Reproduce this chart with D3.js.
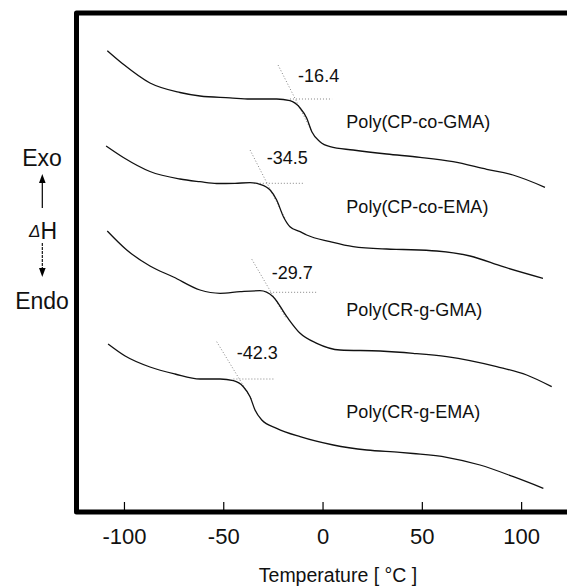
<!DOCTYPE html>
<html>
<head>
<meta charset="utf-8">
<script src="https://cdn.jsdelivr.net/npm/d3@7"></script>
<style>
  body { margin: 0; background: #fff; }
  svg text { font-family: "Liberation Sans", Arial, sans-serif; fill: #111; }
</style>
</head>
<body>
<div class="plots"></div>
<script>
// DSC traces, temperature in degC vs heat flow (arbitrary units, stacked)
var names = ["Poly(CP-co-GMA)", "Poly(CP-co-EMA)", "Poly(CR-g-GMA)", "Poly(CR-g-EMA)"];

var tempA = [-108.4, -100.5, -86.9, -71.8, -61.7, -46.6, -36.5, -23.1, -16.4, -11.3, -8.0, -5.4, -1.3, 3.8, 15.4, 32.3, 49.1, 65.7, 82.7, 95.9, 112];
var flowA = [46.13, 44.8, 42.9, 41.95, 41.6, 41.42, 41.3, 41.3, 41.13, 40.4, 39.4, 38.03, 37.03, 36.53, 36.2, 35.8, 35.47, 35.03, 34.27, 33.7, 32.47];

var tempB = [-109, -100.3, -86.9, -71.8, -61.7, -53.3, -44.1, -36.5, -31.5, -26.4, -23.1, -19.7, -16.4, -11.3, -8, 3.8, 15.4, 32.3, 40.5, 57.5, 74.3, 90.9, 111];
var flowB = [36.6, 35.45, 34.05, 33.3, 33.03, 32.85, 32.87, 32.93, 32.77, 32.2, 31.2, 29.53, 28.53, 28.03, 27.7, 27.03, 26.53, 26.3, 26.25, 26.1, 25.6, 24.53, 23.37];

var tempC = [-108.4, -98.6, -86.9, -75.1, -61.7, -51.6, -41.5, -31.5, -24.9, -18.0, -11.3, -2.9, 8.8, 29.0, 45.6, 62.5, 87.7, 102.8, 115.4];
var flowC = [28.1, 26.2, 24.6, 23.5, 22.2, 21.87, 22.03, 22.13, 21.53, 19.53, 17.87, 16.87, 16.2, 16.1, 15.87, 15.53, 14.53, 13.7, 12.53];

var tempD = [-108, -99.4, -86.9, -74.3, -61.7, -51.6, -44.9, -39.9, -36.5, -34.0, -30.6, -23.1, -11.3, 5.4, 22.3, 39.0, 45.6, 62.5, 79.3, 96.1, 111.2];
var flowD = [16.8, 15.6, 14.5, 13.8, 13.3, 13.3, 13.13, 12.53, 11.53, 10.2, 9.2, 8.37, 7.53, 6.7, 6.2, 5.97, 5.85, 5.47, 4.7, 3.53, 2.37];

// glass transition onsets and their construction lines
var onsets = ["-16.4", "-34.5", "-29.7", "-42.3"];
var onsetLabelT = [-12.3, -28.1, -25.6, -43.2];
var onsetLabelV = [43.6, 35.4, 23.9, 15.9];
var tangentT = [[-22.4, -5.3], [-36.5, -18.9], [-35.6, -18.4], [-53.3, -35.5]];
var tangentV = [[44.7, 38.0], [36.2, 29.37], [25.27, 19.4], [17.03, 11.2]];
var baseT = [[-16.4, 4.8], [-33.1, -9.7], [-26.4, -2.3], [-44.9, -24.0]];
var baseV = [41.3, 32.87, 21.97, 13.3];
var nameLabelV = [39.0, 30.5, 20.2, 10.0];

var xTicks = [-100, -50, 0, 50, 100];

var width = 567, height = 586;
var frameLeft = 76.5, frameTop = 13, frameBottom = 512;

var svg = d3.select(".plots").append("svg")
    .attr("width", width)
    .attr("height", height);

var x = d3.scaleLinear().domain([-123.9, 123.1]).range([frameLeft, width]);
var y = d3.scaleLinear().domain([0, 50]).range([frameBottom, 12]);

var line = d3.line()
    .x(function(d) { return x(d[0]); })
    .y(function(d) { return y(d[1]); })
    .curve(d3.curveMonotoneX);

var series = [[tempA, flowA], [tempB, flowB], [tempC, flowC], [tempD, flowD]];

series.forEach(function(s, i) {
  var pts = s[0].map(function(t, j) { return [t, s[1][j]]; });

  // tangent (dotted)
  svg.append("line")
      .attr("x1", x(tangentT[i][0])).attr("y1", y(tangentV[i][0]))
      .attr("x2", x(tangentT[i][1])).attr("y2", y(tangentV[i][1]))
      .attr("stroke", "#777")
      .attr("stroke-width", 0.9)
      .attr("stroke-dasharray", "1,2");
  // baseline extension (dotted)
  svg.append("line")
      .attr("x1", x(baseT[i][0])).attr("y1", y(baseV[i]))
      .attr("x2", x(baseT[i][1])).attr("y2", y(baseV[i]))
      .attr("stroke", "#777")
      .attr("stroke-width", 0.9)
      .attr("stroke-dasharray", "1,2");

  svg.append("path")
      .datum(pts)
      .attr("fill", "none")
      .attr("stroke", "#111")
      .attr("stroke-width", 1.3)
      .attr("stroke-linejoin", "round")
      .attr("d", line);

  svg.append("text")
      .attr("x", x(onsetLabelT[i]))
      .attr("y", y(onsetLabelV[i]))
      .attr("dominant-baseline", "central")
      .style("font-size", "18px")
      .text(onsets[i]);

  svg.append("text")
      .attr("x", x(12))
      .attr("y", y(nameLabelV[i]))
      .attr("dominant-baseline", "central")
      .style("font-size", "18px")
      .text(names[i]);
});

// frame: open on the right
svg.append("path")
    .attr("d", "M" + (width + 5) + "," + frameTop + "H" + frameLeft + "V" + frameBottom + "H" + (width + 5))
    .attr("fill", "none")
    .attr("stroke", "#000")
    .attr("stroke-width", 5)
    .attr("stroke-linejoin", "round");

var xAxis = svg.append("g")
    .attr("transform", "translate(0," + (frameBottom - 2) + ")")
    .call(d3.axisBottom(x).tickValues(xTicks)
      .tickFormat(function(d) { return String(d); })
      .tickSizeInner(-8).tickSizeOuter(0).tickPadding(18));
xAxis.select(".domain").remove();
xAxis.selectAll(".tick line").attr("stroke", "#000").attr("stroke-width", 1.2);
xAxis.selectAll(".tick text")
    .attr("fill", "#111")
    .style("font-family", "'Liberation Sans', Arial, sans-serif")
    .style("font-size", "22px");

svg.append("text")
    .attr("x", 338)
    .attr("y", 575)
    .attr("text-anchor", "middle")
    .attr("dominant-baseline", "central")
    .style("font-size", "19.5px")
    .text("Temperature [ \u00B0C ]");

// Exo / dH / Endo side label
svg.append("text")
    .attr("x", 42).attr("y", 158)
    .attr("text-anchor", "middle")
    .attr("dominant-baseline", "central")
    .style("font-size", "23px")
    .text("Exo");
svg.append("text")
    .attr("x", 42).attr("y", 301)
    .attr("text-anchor", "middle")
    .attr("dominant-baseline", "central")
    .style("font-size", "23px")
    .text("Endo");
var dh = svg.append("text")
    .attr("x", 43).attr("y", 231)
    .attr("text-anchor", "middle")
    .attr("dominant-baseline", "central")
    .style("font-size", "23px");
dh.append("tspan").style("font-style", "italic").style("font-size", "17px").text("\u0394");
dh.append("tspan").text("H");

svg.append("line")
    .attr("x1", 42.3).attr("y1", 208).attr("x2", 42.3).attr("y2", 180)
    .attr("stroke", "#000").attr("stroke-width", 1.2);
svg.append("path")
    .attr("d", "M42.3,174L39,183L45.6,183Z")
    .attr("fill", "#000");
svg.append("line")
    .attr("x1", 42.3).attr("y1", 243).attr("x2", 42.3).attr("y2", 271)
    .attr("stroke", "#000").attr("stroke-width", 1.1)
    .attr("stroke-dasharray", "3,1");
svg.append("path")
    .attr("d", "M42.3,277L39,268L45.6,268Z")
    .attr("fill", "#000");
</script>
</body>
</html>
